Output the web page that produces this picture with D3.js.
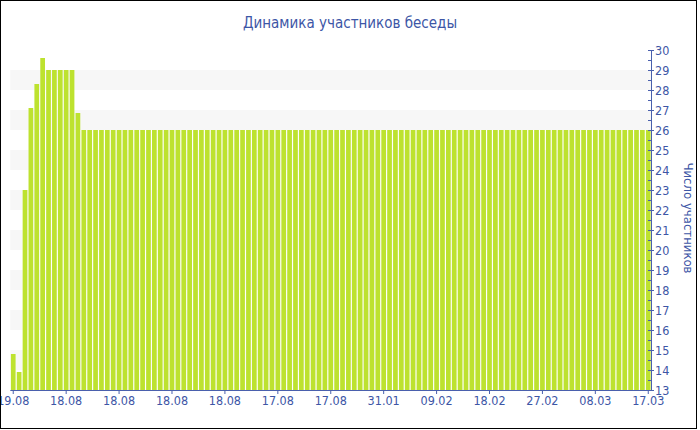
<!DOCTYPE html>
<html>
<head>
<meta charset="utf-8">
<script src="https://cdn.jsdelivr.net/npm/d3@7"></script>
<style>
  html, body { margin: 0; padding: 0; background: #fff; }
  svg { display: block; }
  text { font-family: Tahoma, "DejaVu Sans Condensed", "DejaVu Sans", sans-serif; }
</style>
</head>
<body>
<script>
const title = "Динамика участников беседы";
const yTitle = "Число участников";

// daily member counts (one bar per day)
const values = [
  14.8, 13.9, 23, 27.1, 28.3, 29.6, 29, 29, 29, 29, 29, 26.85,
  26, 26, 26, 26, 26, 26, 26, 26, 26, 26,
  26, 26, 26, 26, 26, 26, 26, 26, 26, 26,
  26, 26, 26, 26, 26, 26, 26, 26, 26, 26,
  26, 26, 26, 26, 26, 26, 26, 26, 26, 26,
  26, 26, 26, 26, 26, 26, 26, 26, 26, 26,
  26, 26, 26, 26, 26, 26, 26, 26, 26, 26,
  26, 26, 26, 26, 26, 26, 26, 26, 26, 26,
  26, 26, 26, 26, 26, 26, 26, 26, 26, 26,
  26, 26, 26, 26, 26, 26, 26, 26, 26, 26,
  26, 26, 26, 26, 26, 26, 26
];

// x tick labels, one every 9 bars
const tickLabels = ["19.08", "18.08", "18.08", "18.08", "18.08", "17.08", "17.08",
                    "31.01", "09.02", "18.02", "27.02", "08.03", "17.03"];
const tickEvery = 9;

const yMin = 13, yMax = 30;

const W = 700, H = 430;
const blue = "#3d56a6";
const axisBlue = "#4a60ad";
const barColor = "#bde22f";
const bandColor = "#f7f7f7";

const svg = d3.select("body").append("svg").attr("width", W).attr("height", H);

const x = d3.scaleBand()
  .domain(d3.range(values.length))
  .range([10.3, 651.2])
  .paddingInner(0.2)
  .paddingOuter(0.1);

const y = d3.scaleLinear().domain([yMin, yMax]).range([390, 50]);

const plotL = 10.3, plotR = 651;

// alternating background bands
const bandStarts = d3.range(yMin + 1, yMax - 1, 2);
svg.append("g").selectAll("rect").data(bandStarts).join("rect")
  .attr("x", plotL)
  .attr("width", plotR - plotL)
  .attr("y", d => y(d + 1))
  .attr("height", d => y(d) - y(d + 1))
  .attr("fill", bandColor);

// bars
svg.append("g").selectAll("rect").data(values).join("rect")
  .attr("x", (d, i) => x(i))
  .attr("width", x.bandwidth())
  .attr("y", d => y(d))
  .attr("height", d => y(yMin) - y(d))
  .attr("fill", barColor);

// x axis
const tickIdx = tickLabels.map((l, k) => k * tickEvery);
const xAxis = d3.axisBottom(x)
  .tickValues(tickIdx)
  .tickFormat((d, k) => tickLabels[k])
  .tickSize(4)
  .tickSizeOuter(0);
const gx = svg.append("g").attr("transform", `translate(0,${y(yMin)})`).call(xAxis);
gx.select(".domain").attr("stroke", axisBlue).attr("d", `M${plotL},0.5H${plotR}`);
gx.selectAll(".tick line").attr("stroke", axisBlue);
gx.selectAll(".tick text")
  .attr("fill", blue)
  .attr("font-size", 12.5)
  .attr("dy", "0.95em")
  .attr("y", 3);

// y axis (right), minor ticks
const minor = d3.range(yMin + 0.5, yMax, 1);
svg.append("g").selectAll("line").data(minor).join("line")
  .attr("x1", plotR - 3).attr("x2", plotR)
  .attr("y1", d => Math.round(y(d)) + 0.5).attr("y2", d => Math.round(y(d)) + 0.5)
  .attr("stroke", axisBlue);

const yAxis = d3.axisRight(y)
  .ticks(yMax - yMin)
  .tickFormat(d3.format("d"))
  .tickSize(3)
  .tickSizeOuter(0);
const gy = svg.append("g").attr("transform", `translate(${plotR},0)`).call(yAxis);
gy.select(".domain").attr("stroke", axisBlue);
gy.selectAll(".tick line").attr("stroke", axisBlue).attr("x1", -3);
gy.selectAll(".tick text")
  .attr("fill", blue)
  .attr("font-size", 12.5)
  .attr("x", 4);

// y title (rotated)
svg.append("text")
  .attr("transform", `translate(684,${y(21.6)}) rotate(90)`)
  .attr("text-anchor", "middle")
  .attr("fill", blue)
  .attr("font-size", 13)
  .text(yTitle);

// title
svg.append("text")
  .attr("x", 350)
  .attr("y", 28)
  .attr("text-anchor", "middle")
  .attr("fill", blue)
  .attr("font-size", 15)
  .text(title);

// outer border
svg.append("rect")
  .attr("x", 0.5).attr("y", 0.5)
  .attr("width", 696).attr("height", 428)
  .attr("fill", "none")
  .attr("stroke", "#000");
</script>
</body>
</html>
